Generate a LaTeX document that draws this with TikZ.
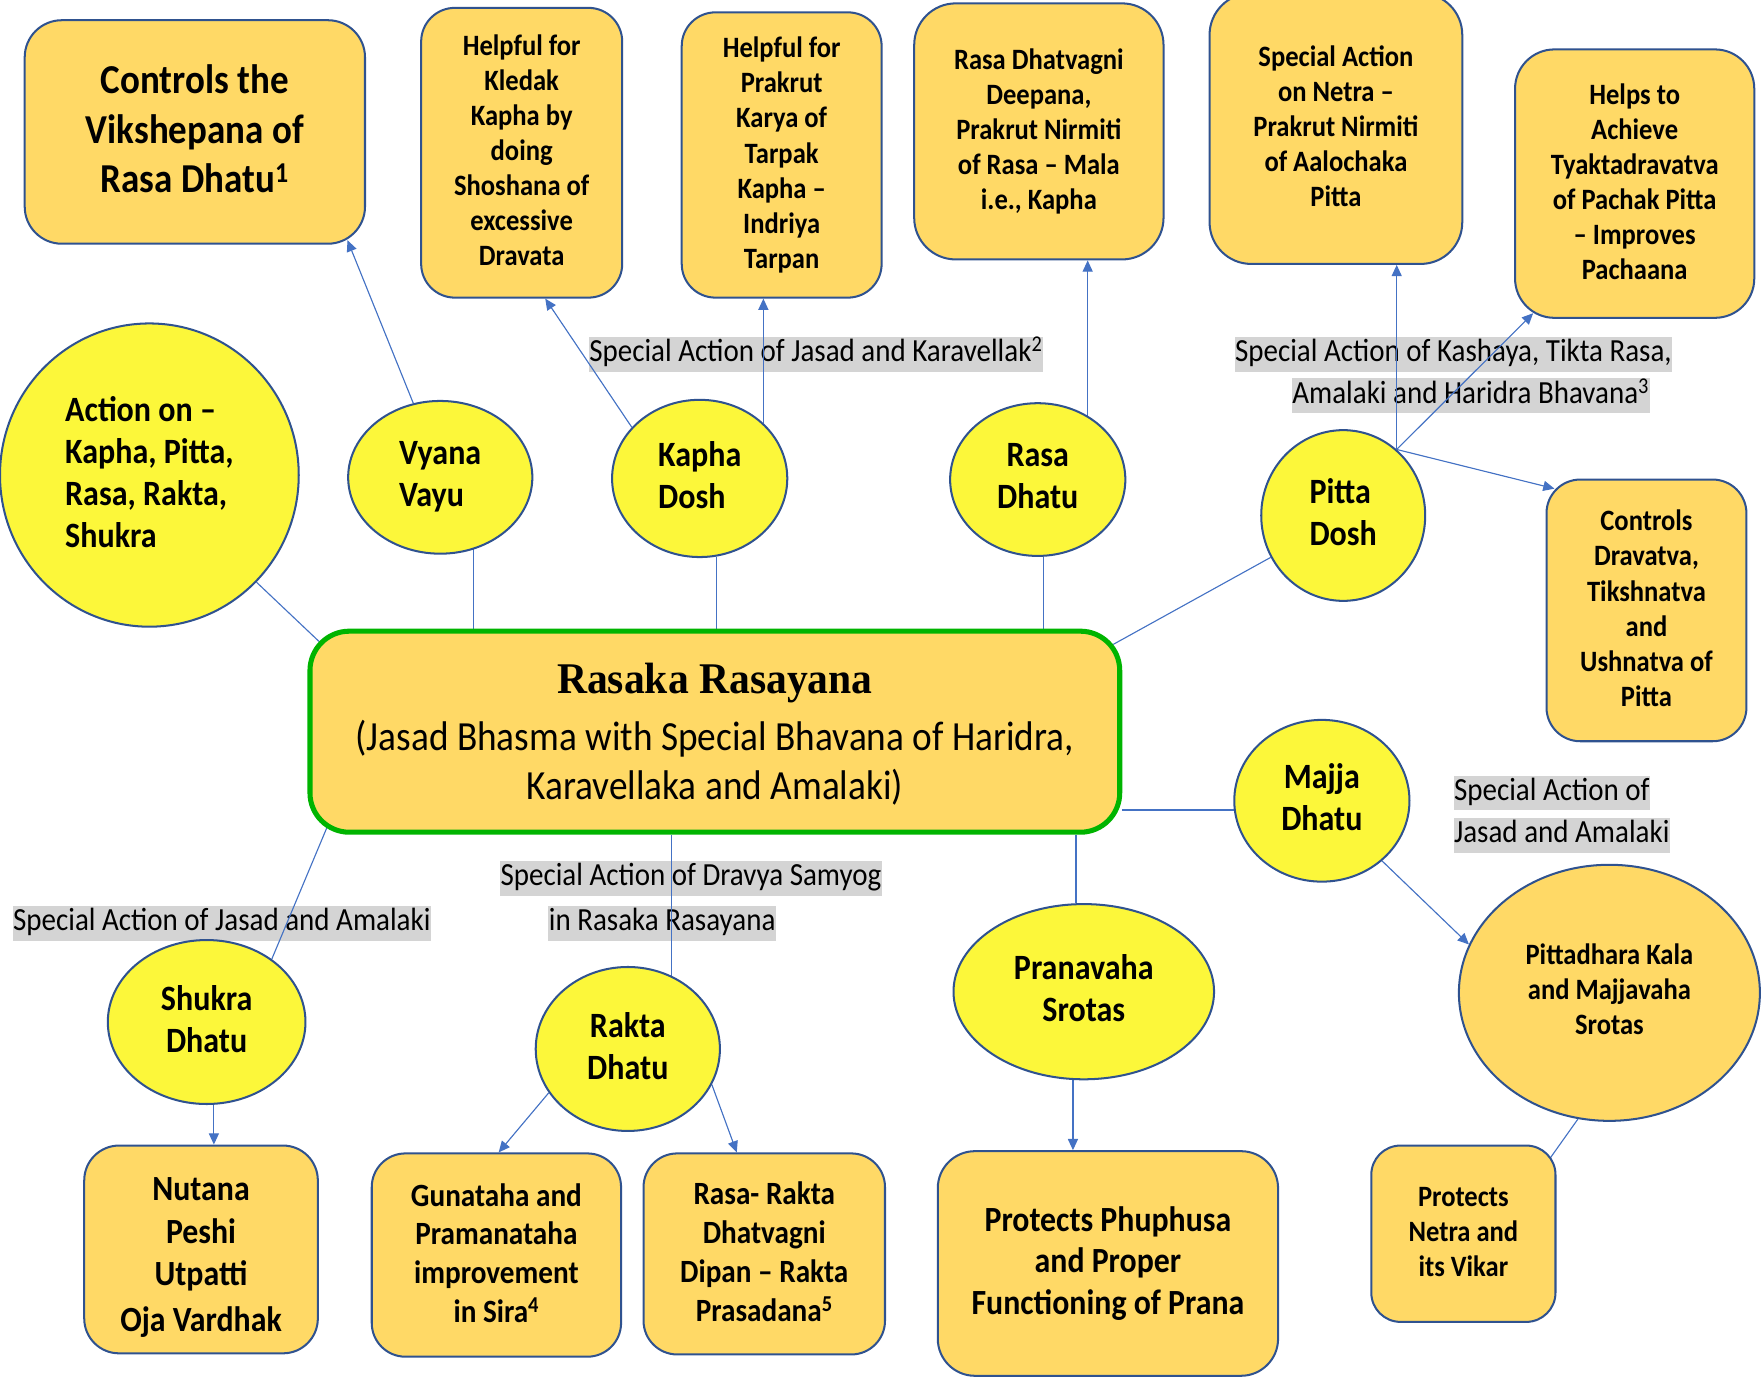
\documentclass[tikz,border=0pt]{standalone}
\usepackage{fontspec}
\setmainfont{Carlito}[FakeStretch=0.9]
\newfontfamily\titlefont{Liberation Serif}[FakeStretch=0.95]
\usetikzlibrary{shapes.geometric,arrows.meta,calc}
\definecolor{boxfill}{HTML}{FFD966}
\definecolor{circfill}{HTML}{FCF73A}
\definecolor{bord}{HTML}{2F528F}
\definecolor{grn}{HTML}{00B400}
\definecolor{linkblue}{HTML}{4472C4}
\definecolor{labgray}{HTML}{D4D4D4}
\newcommand\fntbox{\fontsize{26.3}{31.2}\selectfont\bfseries}
\newcommand\fntbig{\fontsize{36.6}{44}\selectfont\bfseries}
\newcommand\fntcirc{\fontsize{31.7}{37.5}\selectfont\bfseries}
\newcommand\fntbot{\fontsize{31.5}{38}\selectfont\bfseries}
\newcommand\fntmid{\fontsize{28.9}{34.5}\selectfont\bfseries}
\newcommand\fntlab{\fontsize{28.7}{34}\selectfont\mdseries}
\newcommand\fntsub{\fontsize{36.9}{43}\selectfont\mdseries}
\pgfdeclarelayer{bg}
\pgfsetlayers{bg,main}
\tikzset{
  box/.style={rectangle, draw=bord, line width=1.8pt, fill=boxfill, rounded corners=#1, inner sep=0pt, align=center, font=\fntbox,
    execute at end node={\rule[-4pt]{0pt}{0pt}}},
  box/.default=30pt,
  circ/.style={ellipse, draw=bord, line width=1.8pt, fill=circfill, inner sep=0pt, align=center, font=\fntcirc,
    execute at end node={\rule[-6pt]{0pt}{0pt}}},
  lab/.style={fill=labgray, inner xsep=0.5pt, inner ysep=0pt, text height=22pt, text depth=9pt, font=\fntlab, anchor=west},
  link/.style={draw=linkblue, line width=1pt},
  linkarr/.style={link, -{Triangle[length=10pt,width=9pt]}, fill=linkblue}
}
\begin{document}
\begin{tikzpicture}[x=1pt,y=-1pt]
\useasboundingbox (0,0) rectangle (1568,1228);
% top boxes
\node[box=33pt, minimum width=303pt, minimum height=199pt, font=\fntbig, execute at end node={\rule[-6pt]{0pt}{0pt}}] (b1) at (173.5,117.5) {Controls the\\Vikshepana of\\Rasa Dhatu\textsuperscript{1}};
\node[box=30pt, minimum width=179pt, minimum height=258pt] (b2) at (464.5,136) {Helpful for\\Kledak\\Kapha by\\doing\\Shoshana of\\excessive\\Dravata};
\node[box=30pt, minimum width=178pt, minimum height=254pt] (b3) at (696,138) {Helpful for\\Prakrut\\Karya of\\Tarpak\\Kapha --\\Indriya\\Tarpan};
\node[box=37pt, minimum width=222pt, minimum height=228pt] (b4) at (925,117) {Rasa Dhatvagni\\Deepana,\\Prakrut Nirmiti\\of Rasa -- Mala\\i.e., Kapha};
\node[box=37pt, minimum width=225pt, minimum height=241pt] (b5) at (1189.5,114.5) {Special Action\\on Netra --\\Prakrut Nirmiti\\of Aalochaka\\Pitta};
\node[box=35pt, minimum width=213pt, minimum height=239pt] (b6) at (1455.5,163.5) {Helps to\\Achieve\\Tyaktadravatva\\of Pachak Pitta\\-- Improves\\Pachaana};
\node[box=30pt, minimum width=178pt, minimum height=233pt] (bright) at (1466,543.5) {Controls\\Dravatva,\\Tikshnatva\\and\\Ushnatva of\\Pitta};
% central
\node[box=35pt, draw=grn, line width=4.5pt, minimum width=721pt, minimum height=179pt, font=\fntsub] (central) at (636.5,651.5)
  {{\titlefont\bfseries\fontsize{39}{45}\selectfont\rule{0pt}{31pt}Rasaka Rasayana}\\[8pt](Jasad Bhasma with Special Bhavana of Haridra,\\Karavellaka and Amalaki)};
% circles
\node[circ, minimum width=266pt, minimum height=270pt, align=left] (action) at (133,423) {Action on --\\Kapha, Pitta,\\Rasa, Rakta,\\Shukra};
\node[circ, minimum width=164pt, minimum height=136pt, align=left] (vyana) at (392,425) {Vyana\\Vayu};
\node[circ, minimum width=156pt, minimum height=140pt, align=left] (kapha) at (623,426) {Kapha\\Dosh};
\node[circ, minimum width=156pt, minimum height=136pt] (rasa) at (924,427) {Rasa\\Dhatu};
\node[circ, minimum width=146pt, minimum height=152pt, align=left] (pitta) at (1196,459) {Pitta\\Dosh};
\node[circ, minimum width=156pt, minimum height=144pt] (majja) at (1177,713) {Majja\\Dhatu};
\node[circ, minimum width=232pt, minimum height=156pt] (pranavaha) at (965,883) {Pranavaha\\Srotas};
\node[circ, fill=boxfill, font=\fntbox, minimum width=268pt, minimum height=228pt] (pittadhara) at (1433,884) {Pittadhara Kala\\and Majjavaha\\Srotas};
\node[circ, minimum width=176pt, minimum height=146pt] (shukra) at (184,910) {Shukra\\Dhatu};
\node[circ, minimum width=164pt, minimum height=146pt] (rakta) at (559,934) {Rakta\\Dhatu};
% bottom boxes
\node[box=31pt, minimum width=208pt, minimum height=185pt, font=\fntbot] (d1) at (179,1112.5) {\rule{0pt}{35pt}Nutana\\Peshi\\Utpatti\\[3pt]Oja Vardhak};
\node[box=30pt, minimum width=222pt, minimum height=181pt, font=\fntmid] (d2) at (442,1117.5) {Gunataha and\\Pramanataha\\improvement\\in Sira\textsuperscript{4}};
\node[box=30pt, minimum width=215pt, minimum height=179pt, font=\fntmid] (d3) at (680.5,1116.5) {Rasa- Rakta\\Dhatvagni\\Dipan -- Rakta\\Prasadana\textsuperscript{5}};
\node[box=33pt, minimum width=303pt, minimum height=200pt, font=\fontsize{31.5}{37}\selectfont\bfseries] (d4) at (986.5,1125) {Protects Phuphusa\\and Proper\\Functioning of Prana};
\node[box=26pt, minimum width=164pt, minimum height=157pt] (d5) at (1303,1098.5) {Protects\\Netra and\\its Vikar};
\begin{pgfonlayer}{bg}
% labels
\node[lab] (l1) at (524,315.5) {Special Action of Jasad and Karavellak\textsuperscript{2}};
\node[lab] (l2a) at (1099,315.5) {Special Action of Kashaya, Tikta Rasa,};
\node[lab] (l2b) at (1150,352.5) {Amalaki and Haridra Bhavana\textsuperscript{3}};
\node[lab] (l3a) at (1294,706) {Special Action of};
\node[lab] (l3b) at (1294,744) {Jasad and Amalaki};
\node[lab] (l4) at (11,822) {Special Action of Jasad and Amalaki};
\node[lab] (l5a) at (445,782) {Special Action of Dravya Samyog};
\node[lab] (l5b) at (488,822) {in Rasaka Rasayana};
% connectors
\draw[link] (action.-45.3) -- ($(central.north west)+(12,13)$);
\draw[link] (vyana.-65.5) -- (vyana.-65.5 |- central.north);
\draw[linkarr] (vyana.110.3) -- ($(b1.south east)+(-16.5,-4)$);
\draw[link] (kapha.-78.5) -- (kapha.-78.5 |- central.north);
\draw[linkarr] (kapha.143.6) -- ($(b2.south)+(21,0)$);
\draw[linkarr] (kapha.41) -- (kapha.41 |- b3.south);
\draw[link] (rasa.-86.6) -- (rasa.-86.6 |- central.north);
\draw[linkarr] (rasa.52.8) -- (rasa.52.8 |- b4.south);
\draw[link] (pitta.-150.3) -- ($(central.north east)+(-8,14)$);
\draw[linkarr] (pitta.51) -- (pitta.51 |- b5.south);
\draw[linkarr] (pitta.51) -- ($(b6.south west)+(17,-5)$);
\draw[linkarr] (pitta.51) -- ($(bright.north west)+(8,9)$);
\draw[link] (majja.-174.8) -- (majja.-174.8 -| central.east);
\draw[linkarr] (majja.-45) -- (pittadhara.161);
\draw[link] (pittadhara.-104.6) -- ($(d5.north east)+(-7,14)$);
\draw[link] (pranavaha.95.9) -- (pranavaha.95.9 |- central.south);
\draw[linkarr] (pranavaha.-97.3) -- (pranavaha.-97.3 |- d4.north);
\draw[link] ($(central.south west)+(18,-8)$) -- (shukra.44.5);
\draw[linkarr] (shukra.-85.3) -- (shukra.-85.3 |- d1.north);
\draw[link] (rakta.59.6) -- (rakta.59.6 |- central.south);
\draw[linkarr] (rakta.-151.6) -- ($(d2.north)+(2,0)$);
\draw[linkarr] (rakta.-23.1) -- ($(d3.north)+(-24.5,0)$);
\end{pgfonlayer}
\end{tikzpicture}
\end{document}
